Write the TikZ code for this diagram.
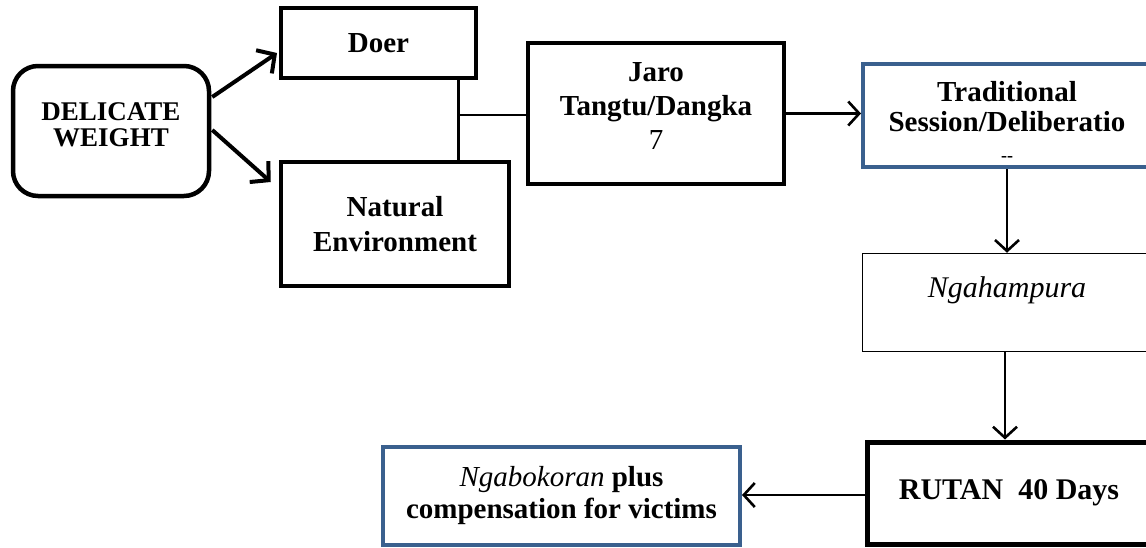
\documentclass[tikz,border=0pt]{standalone}
\usepackage{fontspec}
\setmainfont{Liberation Serif}
\usetikzlibrary{arrows.meta,calc}
\definecolor{boxblue}{RGB}{58,96,142}
\tikzset{
  every node/.style={font=\fontsize{29}{34}\selectfont\bfseries, align=center, inner sep=0pt},
  thickbox/.style={draw=black, line width=4pt, rectangle},
  bluebox/.style={draw=boxblue, line width=4pt, rectangle},
  thinbox/.style={draw=black, line width=1.5pt, rectangle},
  conn/.style={line width=2.6pt},
  arr/.style={line width=2.6pt, -{Straight Barb[length=11pt,width=24pt,line width=2.6pt]}},
  bigarr/.style={line width=4pt, -{Straight Barb[length=13pt,width=28pt,line width=4pt]}}
}
\begin{document}
\begin{tikzpicture}[x=1pt,y=-1pt]
\useasboundingbox (0,0) rectangle (1146,547);
\clip (0,0) rectangle (1146,547);
\node[thickbox, rounded corners=25pt, minimum width=196pt, minimum height=130pt, line width=4.5pt,
      font=\fontsize{27}{26}\selectfont\bfseries] (del) at (111,131) {DELICATE\\WEIGHT\rule[-12pt]{0pt}{12pt}};
\node[thickbox, minimum width=195pt, minimum height=70pt] (doer) at (378.5,43) {Doer};
\node[thickbox, minimum width=228pt, minimum height=124pt, line width=4.5pt,
      font=\fontsize{29}{35}\selectfont\bfseries] (nat) at (395,224) {Natural\\Environment};
\node[thickbox, minimum width=256pt, minimum height=141pt] (jaro) at (656,113.5) {Jaro\\Tangtu/Dangka\\{\mdseries 7}\rule[-16pt]{0pt}{16pt}};
\node[bluebox, minimum width=288pt, minimum height=103pt, font=\fontsize{29}{30}\selectfont\bfseries] (trad) at (1007,115.5) {\rule{0pt}{32pt}Traditional\\Session/Deliberatio\\{\fontsize{18}{18}\selectfont -{}-}};
\node[thinbox, minimum width=289pt, minimum height=98pt, text height=20pt, text depth=30pt,
      font=\fontsize{30}{34}\selectfont\itshape] (ngah) at (1007,302.5) {Ngahampura};
\node[thickbox, minimum width=284pt, minimum height=102pt, line width=5pt, font=\fontsize{30}{34}\selectfont\bfseries] (rutan) at (1009,493) {RUTAN~~40 Days};
\node[bluebox, minimum width=357pt, minimum height=98pt, font=\fontsize{29}{32}\selectfont\bfseries] (ngab) at (561.5,495.5) {{\mdseries\itshape Ngabokoran} plus\\compensation for victims};
% connectors
\coordinate (J) at (458,115);
\draw[bigarr] ($(del.east)+(1,-34)$) -- ($(doer.west)+(-2,10)$);
\draw[bigarr] ($(del.east)+(1,-1)$) -- ($(nat.west)+(-8,-42)$);
\draw[conn, line width=3pt] (doer.south -| J) -- (nat.north -| J);
\draw[conn] (J) -- (jaro.west |- J);
\draw[arr] (jaro.east) -- (trad.west |- jaro.east);
\draw[arr] (trad.south) -- (ngah.north);
\draw[arr] ($(ngah.south)+(-2,0)$) -- ($(rutan.north)+(-4,0)$);
\draw[arr] ($(rutan.west)+(0,2)$) -- ($(ngab.east)+(0,-0.5)$);
\end{tikzpicture}
\end{document}
